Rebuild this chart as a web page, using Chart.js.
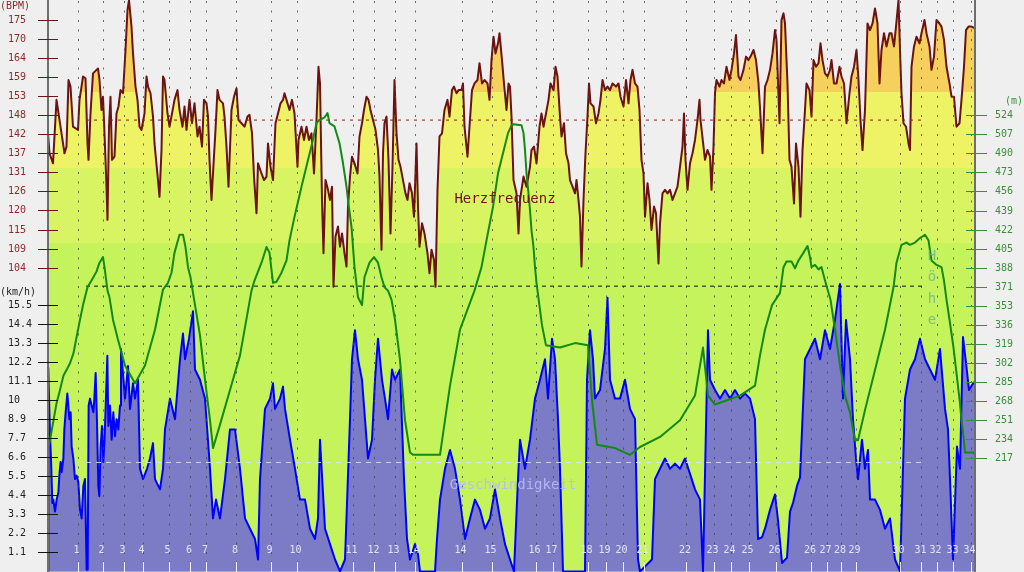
<!DOCTYPE html>
<html><head><meta charset="utf-8">
<script src="https://cdn.jsdelivr.net/npm/chart.js@4.4.1/dist/chart.umd.min.js"></script>
<style>html,body{margin:0;padding:0;background:#efefef;overflow:hidden}#wrap{width:1024px;height:572px}</style>
</head><body><div id="wrap"><canvas id="c" width="1024" height="572"></canvas></div>
<script>
// ---- time axis (minutes) and km markers ----
const totalMinutes = 185.4;
const kmMinutes = [5.9,10.9,15.1,18.9,24.1,28.4,31.6,37.6,44.5,49.7,60.9,65.3,69.3,73.4,82.7,88.7,97.5,100.9,107.9,111.5,114.9,119.1,127.6,133.1,136.5,140.1,145.5,152.6,155.7,158.6,161.5,170.3,174.7,177.7,181.1,184.5];
const kmLabels = ['1','2','3','4','5','6','7','8','9','10','11','12','13','14','14','15','16','17','18','19','20','21','22','23','24','25','26','26','27','28','29','30','31','32','33','34'];

// ---- heart rate (BPM) ----
const hrMinutes = [
0.0,0.3,1.0,1.7,2.0,2.7,3.3,3.7,4.1,4.5,
5.0,6.0,6.3,6.7,7.0,7.5,7.9,8.1,8.5,9.0,
9.7,10.0,10.3,10.7,11.0,11.3,11.7,11.9,12.2,12.5,
12.8,13.3,13.7,14.1,14.5,15.0,15.5,15.9,16.2,16.7,
17.0,17.5,17.9,18.3,18.7,19.3,19.7,20.0,20.5,21.0,
21.3,22.0,22.3,22.7,23.0,23.3,23.9,24.3,24.8,25.3,
25.9,26.3,26.9,27.3,27.7,28.3,28.8,29.3,29.9,30.3,
30.8,31.2,31.7,32.0,32.3,32.7,33.0,33.5,33.9,34.3,
35.0,35.3,35.7,36.1,36.7,37.2,37.7,38.1,38.7,39.3,
39.9,40.3,40.8,41.2,41.7,42.0,42.7,43.2,43.7,44.0,
44.5,45.0,45.5,46.0,46.5,47.0,47.3,47.9,48.3,48.8,
49.3,49.9,50.1,50.7,51.2,51.7,52.2,52.7,53.2,53.7,
54.1,54.4,54.8,55.1,55.5,56.0,56.4,56.8,57.1,57.5,
58.0,58.4,58.8,59.3,59.7,60.0,60.4,60.8,61.3,61.9,
62.3,62.8,63.2,63.7,64.1,64.5,65.0,65.5,66.0,66.3,
66.7,67.0,67.3,67.7,68.1,68.5,68.9,69.3,69.7,70.1,
70.5,71.0,71.5,71.9,72.3,72.8,73.2,73.7,74.0,74.3,
74.8,75.3,75.9,76.3,76.7,77.2,77.5,77.9,78.3,78.8,
79.3,79.9,80.3,80.8,81.2,81.7,82.1,82.7,83.0,83.3,
83.9,84.3,84.8,85.3,85.9,86.3,86.8,87.3,87.9,88.3,
88.7,89.1,89.5,90.0,90.3,90.8,91.2,91.7,92.1,92.4,
92.7,93.1,93.4,93.7,94.1,94.4,95.1,95.7,96.4,96.7,
97.2,97.7,98.3,98.7,99.1,99.6,100.1,100.5,101.1,101.5,
101.9,102.4,102.7,103.2,103.6,104.1,104.4,104.9,105.4,105.7,
106.1,106.4,106.7,107.1,107.5,107.9,108.2,108.5,109.1,109.6,
110.1,110.5,110.9,111.4,111.9,112.4,112.9,113.6,114.1,114.5,
115.1,115.6,116.1,116.5,116.9,117.4,117.9,118.3,118.7,119.1,
119.4,119.9,120.3,120.7,121.2,121.6,122.1,122.4,122.9,123.4,
123.9,124.4,124.9,125.4,125.9,126.4,126.9,127.2,127.5,127.9,
128.4,128.9,129.4,129.9,130.3,130.5,131.1,131.4,131.9,132.4,
132.7,133.1,133.4,133.7,134.3,134.7,135.2,135.7,136.3,136.7,
137.2,137.6,138.1,138.5,139.1,139.6,140.1,140.5,141.1,141.6,
142.1,142.5,142.9,143.4,143.9,144.4,144.9,145.4,145.7,146.3,
146.7,147.1,147.4,147.9,148.3,148.7,149.2,149.6,150.1,150.5,
150.9,151.4,151.7,152.3,152.7,153.1,153.6,154.1,154.5,154.9,
155.4,155.9,156.4,156.7,157.2,157.7,158.3,158.7,159.2,159.7,
160.3,160.7,161.2,161.7,162.1,162.5,162.9,163.4,163.9,164.4,
164.9,165.4,165.9,166.3,166.7,167.2,167.7,168.3,168.7,169.2,
169.6,170.1,170.4,170.7,171.1,171.6,172.1,172.4,172.7,173.2,
173.7,174.3,174.7,175.3,175.7,176.3,176.7,177.2,177.7,178.3,
178.7,179.2,179.7,180.3,180.7,181.2,181.7,182.3,182.7,183.2,
183.6,184.1,184.7,185.4];
const hrBpm = [
142.5,136.8,133.9,152.1,149.2,142.5,136.8,138.7,157.8,155.9,
144.4,143.5,152.1,155.9,158.8,158.3,139.6,134.9,148.2,159.7,
160.7,161.1,157.8,149.2,153.0,142.5,127.2,117.7,144.4,153.0,
134.9,135.8,148.2,150.2,154.9,154.0,166.4,177.9,180.7,173.1,
165.4,155.9,152.1,144.4,143.5,148.2,158.8,155.9,154.0,147.3,
139.6,129.1,124.3,137.7,158.8,157.8,148.2,144.4,148.2,152.1,
154.9,149.2,144.4,150.2,143.5,152.1,145.4,151.1,141.6,144.4,
138.7,152.1,151.1,147.3,134.9,123.4,131.0,143.5,154.9,152.1,
151.1,147.3,138.7,127.2,149.2,153.0,155.4,146.3,145.4,144.4,
147.3,147.8,142.5,130.1,119.6,133.9,131.0,129.1,130.1,139.6,
132.9,129.1,145.4,148.2,151.1,152.1,154.0,151.1,149.2,152.1,
148.2,132.9,140.6,144.4,140.6,144.4,140.6,142.5,131.0,146.3,
161.6,156.8,123.4,108.1,129.1,126.3,123.4,127.2,98.5,112.9,
115.8,110.0,113.8,108.1,104.3,121.5,130.1,135.8,133.9,131.0,
141.6,145.4,149.2,153.0,152.1,149.2,146.3,143.5,137.7,130.1,
109.1,136.8,145.4,147.3,134.9,113.8,132.9,157.8,142.5,134.9,
132.9,129.1,125.3,123.4,128.2,125.3,118.6,139.6,121.5,110.0,
116.7,113.8,108.1,102.4,109.1,106.2,98.5,126.3,141.6,142.5,
149.2,152.1,147.3,154.9,155.9,154.0,154.9,154.9,156.8,144.4,
135.8,144.4,154.9,156.8,157.8,162.6,156.8,157.8,156.8,152.1,
163.5,170.2,165.4,168.3,171.2,163.5,156.8,149.2,156.8,155.9,
147.3,129.1,127.2,125.3,113.8,123.4,130.1,127.2,132.9,137.7,
138.7,133.9,144.4,148.2,144.4,148.2,152.1,156.8,154.9,161.6,
158.8,147.3,141.6,145.4,136.8,133.9,129.1,127.2,125.3,129.1,
123.4,118.6,104.3,123.4,136.8,147.3,156.8,151.1,150.2,145.4,
148.2,152.1,157.8,154.9,155.9,154.9,156.8,155.9,156.8,153.0,
150.2,157.8,151.1,157.8,160.7,156.8,155.9,149.2,134.9,131.0,
118.6,128.2,123.4,114.8,121.5,119.6,105.2,116.7,125.3,126.3,
125.3,126.3,123.4,125.3,127.2,132.9,138.7,148.2,134.9,126.3,
133.9,136.8,140.6,146.3,152.1,146.3,138.7,134.9,137.7,135.8,
126.3,138.7,154.0,157.8,155.9,157.8,156.8,161.6,157.8,160.7,
165.4,170.7,158.8,157.8,160.7,164.5,163.5,164.5,166.4,163.5,
156.8,147.3,136.8,155.9,157.8,160.7,165.4,172.1,169.3,145.4,
175.0,176.9,174.0,156.8,134.9,132.9,122.4,139.6,132.9,118.6,
137.7,149.2,156.8,154.9,147.3,163.5,161.6,162.6,168.3,163.5,
159.7,158.8,160.7,163.5,156.8,156.8,161.6,158.8,156.8,145.4,
154.0,158.8,161.6,166.4,157.8,146.3,137.7,149.2,174.0,172.1,
174.0,178.3,174.0,156.8,166.4,171.2,167.4,171.2,171.2,167.4,
173.1,180.7,166.4,154.0,145.4,144.4,139.6,137.7,161.6,167.4,
170.2,168.3,171.2,175.0,171.2,167.4,160.7,164.5,175.0,174.0,
173.1,169.3,161.6,156.8,153.0,153.0,144.4,145.4,152.1,161.6,
172.1,173.1,173.1,172.6];
const hrZoneLimits = [154.3, 132.5, 111.0];
const hrAverage = 146.3;

// ---- altitude (m) ----
const altMinutes = [
0.0,0.1,0.4,1.1,1.7,2.4,3.1,3.7,4.4,5.1,
5.7,6.4,7.1,7.9,8.7,9.7,10.3,11.0,11.3,11.9,
12.3,13.0,14.0,15.4,17.4,19.4,21.4,23.0,24.0,24.7,
25.3,26.3,27.0,27.5,28.0,28.5,29.0,30.4,31.4,32.4,
33.0,34.4,36.4,38.4,40.7,41.3,42.7,43.7,44.3,45.0,
45.7,46.7,47.7,48.3,49.3,50.7,52.0,53.0,53.7,54.1,
55.3,55.9,56.3,57.3,58.3,59.0,59.7,60.0,60.7,61.3,
62.0,62.8,63.3,64.3,65.2,66.0,66.7,67.3,68.0,68.7,
69.4,70.4,71.4,72.4,73.0,78.4,79.4,80.4,82.4,85.3,
86.7,88.0,89.0,90.0,91.0,92.0,92.7,93.1,94.7,95.1,
95.4,95.7,96.1,96.4,96.7,97.1,97.4,97.7,98.1,98.8,
99.6,102.4,105.4,108.0,108.8,109.8,113.4,116.4,118.4,122.4,
126.4,129.4,131.0,132.0,133.4,138.4,141.4,142.4,143.4,144.8,
146.4,147.1,147.7,148.7,149.4,150.1,151.1,151.9,152.4,152.7,
153.4,154.1,154.7,155.4,156.1,156.5,157.4,158.4,159.4,160.4,
161.4,162.0,163.4,165.4,167.4,169.1,169.7,170.7,171.7,172.4,
173.4,174.4,175.4,176.1,176.7,177.7,178.7,179.2,179.7,180.4,
181.1,181.7,182.4,182.7,183.1,183.4,184.1,185.1,185.4];
const altMeters = [
117,227,233,251,266,278,291,296,302,311,
325,341,356,370,376,384,392,397,388,367,
361,341,323,300,284,300,332,368,374,383,
401,417,417,406,388,379,365,327,287,251,
226,247,278,309,367,376,392,406,401,374,
375,383,394,412,433,460,484,502,517,519,
522,526,517,514,499,481,460,448,424,388,
361,354,379,392,397,392,379,370,367,359,
341,305,251,222,220,220,251,282,332,367,
388,419,442,472,490,508,515,516,515,508,
493,472,454,439,421,406,388,374,360,336,
318,316,320,318,269,229,226,220,227,236,
251,273,316,273,265,273,282,309,332,354,
365,388,393,393,387,394,401,407,397,388,
390,386,388,376,365,359,332,300,273,258,
233,233,260,296,332,370,392,408,410,408,
410,414,417,412,394,390,388,376,359,338,
316,293,266,251,236,222,222,222,220];
const altAverage = 371;

// ---- speed (km/h) ----
const spMinutes = [
0.0,0.05,0.4,0.6,0.87,1.07,1.4,1.73,2.07,2.27,
2.53,2.73,3.07,3.27,3.53,3.87,4.07,4.27,4.53,4.73,
5.07,5.4,5.73,6.07,6.4,6.73,7.07,7.4,7.73,7.93,
8.13,8.4,8.73,9.07,9.27,9.53,9.8,10.07,10.27,10.53,
10.8,11.07,11.33,11.6,11.87,12.07,12.4,12.73,13.07,13.4,
13.73,14.07,14.4,
14.6,15.4,16.0,16.4,17.0,17.4,18.0,18.4,19.0,19.8,
20.4,21.0,21.4,22.4,23.0,23.4,24.4,25.4,26.4,27.0,
27.4,28.2,29.0,29.4,30.4,31.4,32.4,33.0,33.6,34.4,
35.4,36.4,37.4,38.4,39.4,40.4,41.4,42.0,42.4,43.4,
44.4,45.0,45.4,46.4,47.0,47.4,48.4,49.4,50.4,51.4,
52.4,53.4,54.0,54.4,55.4,56.4,57.4,58.4,59.4,60.4,
60.8,61.4,62.0,62.8,63.4,64.0,64.8,65.4,66.0,66.8,
67.4,68.0,68.8,69.4,70.4,71.2,71.8,72.4,73.4,74.0,
74.4,77.4,77.8,78.4,79.4,80.4,81.4,82.4,83.4,84.4,
85.4,86.4,87.4,88.4,89.4,90.4,91.4,92.4,93.2,94.0,
94.4,95.4,96.4,97.4,98.4,99.4,100.0,100.8,101.4,102.0,
102.4,103.0,107.4,107.8,108.4,109.0,109.4,110.4,111.4,111.9,
112.4,113.4,114.4,115.4,116.4,117.4,118.0,118.4,120.8,121.4,
122.4,123.4,124.4,125.4,126.4,127.4,128.4,129.4,130.4,131.0,
132.0,132.4,133.4,134.4,135.4,136.4,137.4,138.4,139.4,140.4,
141.4,142.0,142.8,143.4,144.4,145.4,146.0,146.8,147.8,148.4,
149.0,149.8,150.4,151.4,152.4,153.4,154.4,155.4,156.4,157.4,
158.4,159.0,159.6,160.4,161.0,161.6,162.0,162.8,163.4,164.0,
164.4,165.4,166.4,167.4,168.4,169.4,170.4,171.4,172.4,173.4,
174.4,175.4,176.4,177.4,178.4,179.4,180.0,180.4,181.0,181.8,
182.4,183.0,183.6,184.2,184.8,185.4];
const spKmh = [
0,11.9,8.0,6.6,4.0,4.2,3.5,4.2,4.6,5.6,
6.4,5.8,6.6,8.3,9.3,10.4,9.7,8.9,9.3,7.3,
6.6,5.4,5.6,5.2,3.6,3.1,5.0,5.4,0.1,0.1,
9.7,10.1,9.7,9.3,10.1,11.6,8.7,5.0,4.4,7.3,
8.5,6.4,7.9,10.2,12.6,8.5,9.7,7.7,9.3,7.9,
8.9,8.3,9.7,
13.0,10.1,12.0,9.5,11.0,10.1,11.2,6.0,5.4,6.0,
6.6,7.5,5.4,4.8,6.0,8.3,10.1,8.9,12.4,13.9,
12.4,13.6,15.2,11.8,11.2,10.1,6.0,3.1,4.2,3.1,
5.4,8.3,8.3,6.0,3.1,2.5,1.9,0.7,5.4,9.5,
10.1,11.0,9.5,10.1,10.8,9.5,7.7,6.0,4.2,4.2,
2.5,1.9,3.1,7.7,2.5,1.6,0.7,0,0.7,8.9,
12.4,14.1,12.4,11.2,8.9,6.6,7.7,11.2,13.6,11.2,
10.1,8.9,11.8,11.2,11.8,5.4,1.9,0.7,1.6,1.0,
0,0,1.9,4.2,6.0,7.1,6.0,4.2,1.9,3.1,
4.2,3.6,2.5,3.1,4.8,3.1,1.6,0.7,0,5.4,
7.7,6.0,7.7,10.1,11.2,12.4,10.1,13.6,12.4,8.9,
6.0,0,0,11.2,14.1,12.4,10.1,10.6,13.0,16.0,
11.2,10.1,10.1,11.2,9.5,8.9,0.7,0,0.7,5.4,
6.0,6.6,6.0,6.3,6.0,6.6,5.7,4.8,4.2,0,
14.1,11.2,10.6,10.1,10.6,10.1,10.6,10.1,10.4,10.1,
8.9,1.9,2.0,2.5,3.6,4.5,3.0,0.5,0.8,3.5,
4.0,5.0,5.5,12.4,13.0,13.6,12.4,14.1,13.0,14.7,
16.8,10.1,14.7,12.4,8.9,6.6,5.4,7.7,6.0,7.1,
4.2,4.2,3.6,2.5,3.1,0.7,0,10.1,11.8,12.4,
13.6,12.4,11.8,11.2,13.0,9.5,8.3,5.4,0.7,7.3,
6.0,13.7,12.2,10.6,10.9,11.1];
const spAverage = 6.37;
const avgFrom = 7.6, avgTo = 175.0;

// ---- axis tick labels ----
const hrTickLabels = ['175','170','164','159','153','148','142','137','131','126','120','115','109','104'];
const hrTickTop = 175, hrTickStep = 71/13;
const spTickLabels = ['15.5','14.4','13.3','12.2','11.1','10','8.9','7.7','6.6','5.5','4.4','3.3','2.2','1.1'];
const spTickTop = 14*10/9, spTickStep = 10/9;
const altTickLabels = ['524','507','490','473','456','439','422','405','388','371','353','336','319','302','285','268','251','234','217'];
const altTickTop = 524, altTickStep = 307/18;

// ---- styles ----
const zoneColors = ['#f6d05c','#eef365','#d9f462','#c4f35b'];
const FONT = '"DejaVu Sans Mono", monospace';

const pts = (xs, ys) => xs.map((t, i) => ({x: t, y: ys[i]}));
let zoneGrad = null, zoneKey = '';
function zoneFill(c) {
  const ch = c.chart, a = ch.chartArea;
  if (!a) return zoneColors[3];
  const key = a.top + '_' + a.bottom;
  if (zoneGrad && zoneKey === key) return zoneGrad;
  const s = ch.scales.yHR, H = a.bottom - a.top;
  const f = hrZoneLimits.map(v => Math.min(1, Math.max(0, (s.getPixelForValue(v) - a.top) / H)));
  const g = ch.ctx.createLinearGradient(0, a.top, 0, a.bottom);
  g.addColorStop(0, zoneColors[0]); g.addColorStop(f[0], zoneColors[0]);
  g.addColorStop(f[0], zoneColors[1]); g.addColorStop(f[1], zoneColors[1]);
  g.addColorStop(f[1], zoneColors[2]); g.addColorStop(f[2], zoneColors[2]);
  g.addColorStop(f[2], zoneColors[3]); g.addColorStop(1, zoneColors[3]);
  zoneGrad = g; zoneKey = key; return g;
}

const crisp = v => Math.round(v) + 0.5;
const decor = {
  id: 'decor',
  afterDatasetDraw(chart, args) {
    if (chart.data.datasets[args.index].label !== 'Geschwindigkeit') return;
    const {ctx, chartArea: a, scales: {x}} = chart;
    ctx.save();
    ctx.strokeStyle = 'rgba(70,70,70,0.8)'; ctx.lineWidth = 1; ctx.setLineDash([2, 7.5]);
    kmMinutes.forEach(t => {
      const X = crisp(x.getPixelForValue(t));
      ctx.beginPath(); ctx.moveTo(X, a.top + 1); ctx.lineTo(X, a.bottom); ctx.stroke();
    });
    ctx.restore();
  },
  afterDraw(chart) {
    const {ctx, chartArea: a, scales: {x, yHR, ySp, yAlt}} = chart;
    ctx.save();
    ctx.strokeStyle = '#6e6e6e'; ctx.lineWidth = 2;
    ctx.beginPath(); ctx.moveTo(a.left, 0); ctx.lineTo(a.left, a.bottom);
    ctx.moveTo(a.right, 0); ctx.lineTo(a.right, a.bottom); ctx.stroke();
    ctx.lineWidth = 1;
    ctx.font = '10px ' + FONT; ctx.textBaseline = 'middle'; ctx.textAlign = 'left';
    const tick = (scale, vals, labels, x0, x1, tx, lineCol, txtCol) => {
      labels.forEach((lab, i) => {
        const Y = crisp(scale.getPixelForValue(vals(i)));
        ctx.strokeStyle = lineCol; ctx.beginPath(); ctx.moveTo(x0, Y); ctx.lineTo(x1, Y); ctx.stroke();
        ctx.fillStyle = txtCol; ctx.fillText(lab, tx, Y);
      });
    };
    tick(yHR, i => hrTickTop - i * hrTickStep, hrTickLabels, a.left - 10, a.left + 10, 8, '#6b1414', '#8b2a2a');
    tick(ySp, i => spTickTop - i * spTickStep, spTickLabels, a.left - 10, a.left + 10, 8, '#111', '#222');
    tick(yAlt, i => altTickTop - i * altTickStep, altTickLabels, a.right - 9, a.right + 12, 995, '#3a8f3a', '#3a8f3a');
    ctx.fillStyle = '#8b2a2a'; ctx.fillText('(BPM)', 0, 6);
    ctx.fillStyle = '#222'; ctx.fillText('(km/h)', 0, 292);
    ctx.fillStyle = '#3a8f3a'; ctx.fillText('(m)', 1005, 101);
    ctx.save();
    ctx.beginPath(); ctx.rect(a.left, a.top, a.right - a.left, a.bottom - a.top); ctx.clip();
    ctx.textAlign = 'center'; ctx.fillStyle = '#e4e4f4';
    ctx.strokeStyle = 'rgba(255,255,255,0.9)';
    kmMinutes.forEach((t, i) => {
      const X = x.getPixelForValue(t);
      ctx.fillText(kmLabels[i], X - 1, 550);
      ctx.beginPath(); ctx.moveTo(crisp(X), 562); ctx.lineTo(crisp(X), a.bottom); ctx.stroke();
    });
    ctx.restore();
    ctx.font = '14px ' + FONT; ctx.textAlign = 'center';
    ctx.fillStyle = '#6e1616'; ctx.fillText('Herzfrequenz', 505, 199);
    ctx.fillStyle = 'rgba(186,186,250,0.9)'; ctx.fillText('Geschwindigkeit', 513, 485);
    ctx.fillStyle = 'rgba(100,170,165,0.75)';
    ['H','ö','h','e'].forEach((ch, i) => ctx.fillText(ch, 932, 256 + i * 21.5));
    ctx.restore();
  }
};

new Chart(document.getElementById('c'), {
  type: 'line',
  data: {
    datasets: [
      {label: 'Höhe', data: pts(altMinutes, altMeters), yAxisID: 'yAlt', borderColor: '#138a13', borderWidth: 2, fill: false, order: 1},
      {label: 'avgHR', data: [{x: avgFrom, y: hrAverage}, {x: avgTo, y: hrAverage}], yAxisID: 'yHR', borderColor: '#8b1a1a', borderWidth: 1, borderDash: [3, 5], fill: false, order: 2},
      {label: 'avgAlt', data: [{x: avgFrom, y: altAverage}, {x: avgTo, y: altAverage}], yAxisID: 'yAlt', borderColor: '#111', borderWidth: 1, borderDash: [4, 4], fill: false, order: 2},
      {label: 'avgSp', data: [{x: avgFrom, y: spAverage}, {x: avgTo, y: spAverage}], yAxisID: 'ySp', borderColor: 'rgba(225,225,250,0.85)', borderWidth: 1, borderDash: [5, 5], fill: false, order: 2},
      {label: 'Geschwindigkeit', data: pts(spMinutes, spKmh), yAxisID: 'ySp', borderColor: '#0000ff', borderWidth: 2, backgroundColor: '#7b7bc6', fill: 'origin', order: 3},
      {label: 'Herzfrequenz', data: pts(hrMinutes, hrBpm), yAxisID: 'yHR', borderColor: '#6b1212', borderWidth: 2, backgroundColor: zoneFill, fill: 'start', order: 4}
    ]
  },
  options: {
    responsive: false, animation: false, devicePixelRatio: 1,
    layout: {padding: {left: 48, right: 49, top: 0, bottom: 0}},
    elements: {point: {radius: 0, hoverRadius: 0}, line: {tension: 0, borderJoinStyle: 'round'}},
    plugins: {legend: {display: false}, tooltip: {enabled: false}},
    events: [],
    scales: {
      x: {type: 'linear', min: 0, max: totalMinutes, display: false},
      yHR: {type: 'linear', min: 16.74, max: 180.73, display: false},
      ySp: {type: 'linear', min: -0.03, max: 33.39, display: false},
      yAlt: {type: 'linear', min: 115.07, max: 627.19, display: false}
    }
  },
  plugins: [decor]
});
</script></body></html>
